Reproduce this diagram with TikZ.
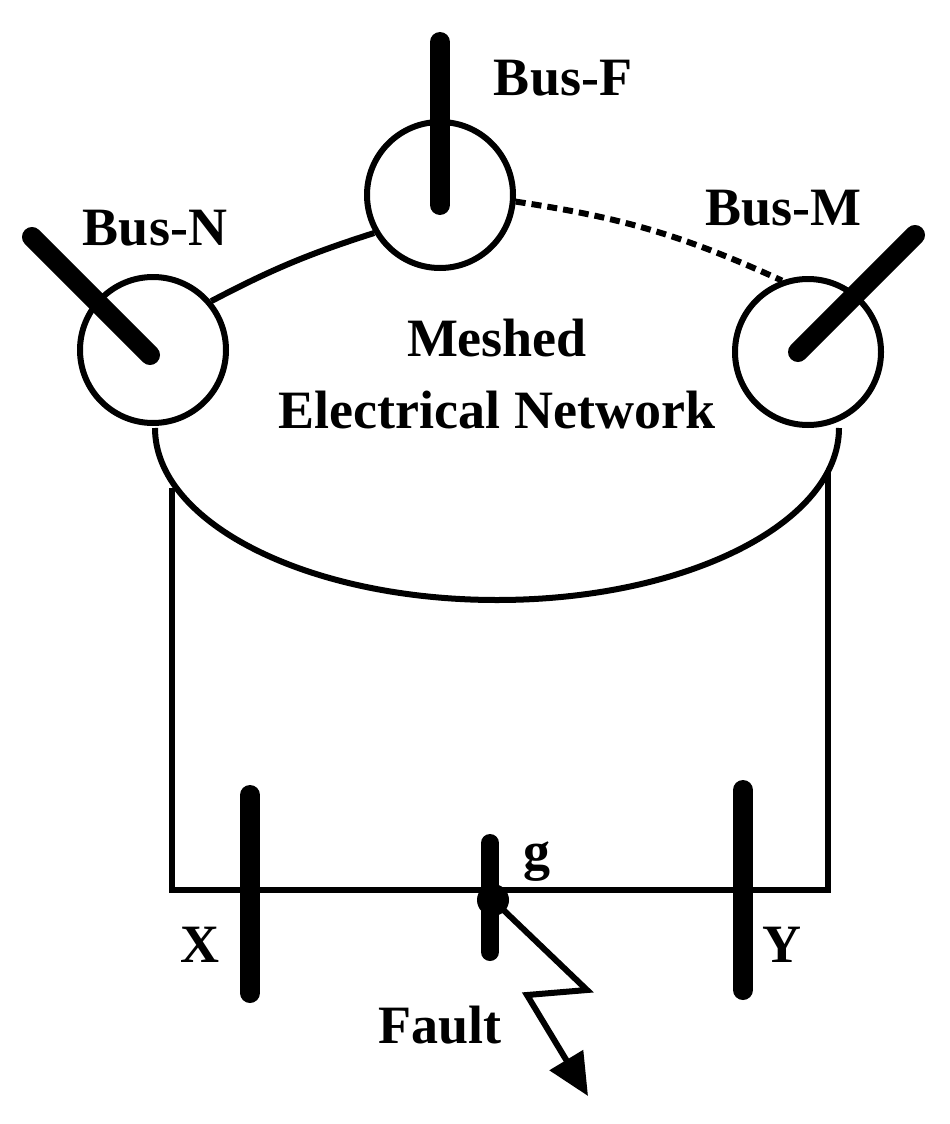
\documentclass[tikz,border=0pt]{standalone}
\usepackage{fontspec}
\setmainfont{Liberation Serif}
\usetikzlibrary{arrows.meta}
\begin{document}
\begin{tikzpicture}[x=1pt,y=-1pt,
  wire/.style={line width=6pt},
  bar/.style={line width=20pt,line cap=round},
  lbl/.style={font=\fontsize{54}{60}\selectfont\bfseries,inner sep=0pt}]
\useasboundingbox (0,0) rectangle (950,1124);
% circles
\node[circle,draw,line width=6pt,minimum size=146pt,inner sep=0pt] (F) at (440,195) {};
\node[circle,draw,line width=6pt,minimum size=146pt,inner sep=0pt] (N) at (153,350) {};
\node[circle,draw,line width=6pt,minimum size=146pt,inner sep=0pt] (M) at (808,352) {};
% bus bars in circles
\coordinate (Ft) at (440,42); \coordinate (Fc) at (440,205);
\coordinate (Nt) at (32,237); \coordinate (Nc) at (150,355);
\coordinate (Mt) at (915,235); \coordinate (Mc) at (798,352);
\draw[bar] (Ft) -- (Fc);
\draw[bar] (Nt) -- (Nc);
\draw[bar] (Mt) -- (Mc);
% network
\draw[wire] (N.40) to[bend left=5] (F.210);
\draw[wire,dash pattern=on 10pt off 6pt] (F.-5) to[bend left=8] (M.110);
\draw[wire] (155,428) arc[start angle=180,end angle=0,x radius=342,y radius=172];
% feeders
\coordinate (L1) at (172,488); \coordinate (L2) at (172,890);
\coordinate (R1) at (828,470); \coordinate (R2) at (828,890);
\draw[wire] (L1) -- (L2) -- (R2) -- (R1);
% buses X, Y, g
\draw[bar] (250,795) -- (250,993);
\draw[bar] (743,790) -- (743,990);
\draw[line width=18pt,line cap=round] (490,843) -- (490,952);
\node[circle,fill,minimum size=32pt,inner sep=0pt] (g) at (493,900) {};
% fault
\coordinate (f1) at (587,990); \coordinate (f2) at (527,995); \coordinate (f3) at (588,1096);
\draw[wire,-{Triangle[length=42pt,width=38pt]}] (g.center) -- (f1) -- (f2) -- (f3);
% labels
\node[lbl] (tF) at (563,78) {Bus-F};
\node[lbl] (tN) at (155,228) {Bus-N};
\node[lbl] (tM) at (783,208) {Bus-M};
\node[lbl] (t1) at (497,338) {Meshed};
\node[lbl] (t2) at (497,410) {Electrical Network};
\node[lbl] (tg) at (537,862) {g};
\node[lbl] (tX) at (200,945) {X};
\node[lbl] (tY) at (782,945) {Y};
\node[lbl] (tFa) at (440,1025) {Fault};
\end{tikzpicture}
\end{document}
